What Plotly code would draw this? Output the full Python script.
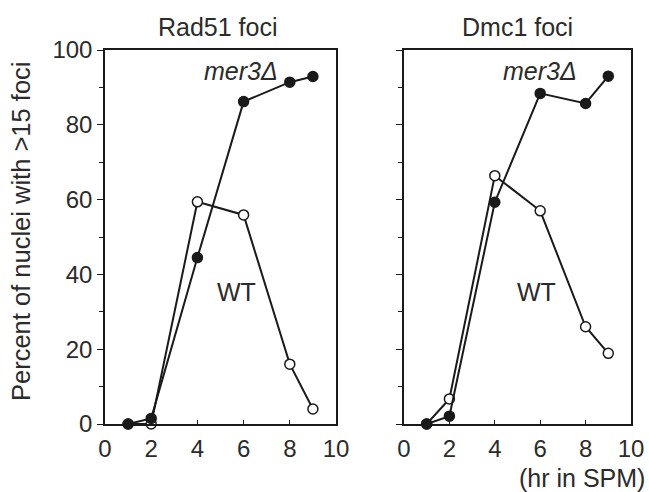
import plotly.graph_objects as go

hours = [1, 2, 4, 6, 8, 9]
rad51_mer3 = [0, 1.5, 44.5, 86.2, 91.4, 92.9]
rad51_wt = [0, 0, 59.4, 55.9, 16.0, 4.0]
dmc1_mer3 = [0, 2.1, 59.3, 88.4, 85.7, 93.0]
dmc1_wt = [0, 6.7, 66.4, 57.0, 26.0, 18.9]
x_ticks = [0, 2, 4, 6, 8, 10]
y_ticks = [0, 20, 40, 60, 80, 100]

W, H = 649, 492
LINE = "#1a1a1a"
TXT = "#2b2b2b"
FONT = "Liberation Sans, Arial, sans-serif"
TS = 24

fig = go.Figure()

def add_series(x, y, xa, ya, filled):
    fig.add_trace(go.Scatter(
        x=x, y=y, xaxis=xa, yaxis=ya, mode="lines+markers",
        line=dict(color=LINE, width=2),
        marker=dict(size=10, color=LINE if filled else "white",
                    line=dict(color=LINE, width=1.5)),
        showlegend=False, cliponaxis=False))

add_series(hours, rad51_wt, "x", "y", False)
add_series(hours, rad51_mer3, "x", "y", True)
add_series(hours, dmc1_wt, "x2", "y2", False)
add_series(hours, dmc1_mer3, "x2", "y2", True)

ydom = [(H - 424) / H, (H - 50) / H]
xdom1 = [105 / W, 336 / W]
xdom2 = [404 / W, 631 / W]

xcommon = dict(range=[0, 10], tickvals=x_ticks, ticks="inside", ticklen=4,
               tickcolor=LINE, showline=True, linecolor=LINE, linewidth=1.5,
               mirror=True, showgrid=False, zeroline=False, automargin=False,
               ticklabelstandoff=2,
               tickfont=dict(family=FONT, size=TS, color=TXT))
ycommon = dict(range=[0, 100], tickvals=y_ticks, ticks="outside", ticklen=6,
               tickcolor=LINE, showline=True, linecolor=LINE, linewidth=1.5,
               mirror=True, showgrid=False, zeroline=False, automargin=False,
               minor=dict(dtick=10, ticks="outside", ticklen=4, tickcolor=LINE),
               tickfont=dict(family=FONT, size=TS, color=TXT), domain=ydom)

fig.update_layout(
    width=W, height=H, autosize=False,
    margin=dict(l=0, r=0, t=0, b=0, pad=0, autoexpand=False),
    paper_bgcolor="white", plot_bgcolor="white",
    xaxis=dict(domain=xdom1, anchor="y", **xcommon),
    xaxis2=dict(domain=xdom2, anchor="y2", **xcommon),
    yaxis=dict(anchor="x", **ycommon),
    yaxis2=dict(anchor="x2", showticklabels=False, **ycommon),
)

ann = []
def txt(x, y, s, size=25, italic=False, xanchor="center", yanchor="middle",
        textangle=0):
    ann.append(dict(x=x / W, y=1 - y / H, xref="paper", yref="paper", text=s,
                    showarrow=False, xanchor=xanchor, yanchor=yanchor,
                    textangle=textangle,
                    font=dict(family=FONT, size=size, color=TXT,
                              style="italic" if italic else "normal")))

txt(218, 27, "Rad51 foci")
txt(517, 27, "Dmc1 foci")
txt(241, 71, "mer3Δ", italic=True)
txt(540, 71, "mer3Δ", italic=True)
txt(236, 292, "WT")
txt(536, 292, "WT")
txt(647, 494, "(hr in SPM)", xanchor="right", yanchor="bottom")
txt(21, 232, "Percent of nuclei with >15 foci", size=25.5, textangle=-90)
fig.update_layout(annotations=ann)

fig.write_html("out.html")
